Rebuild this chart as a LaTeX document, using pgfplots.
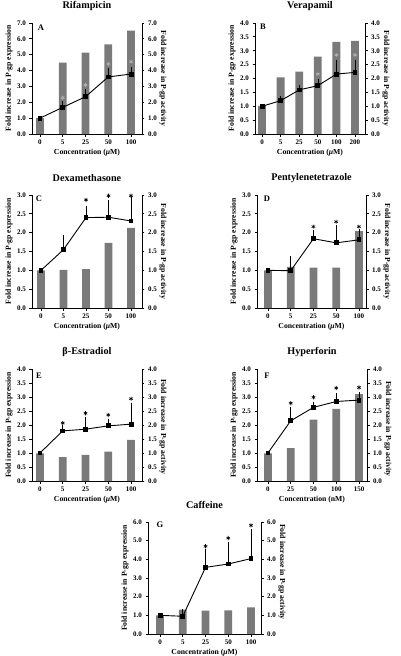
\documentclass[border=0pt]{standalone}
\usepackage{fontspec}
\setmainfont{Liberation Serif}
\usepackage{pgfplots}
\pgfplotsset{compat=1.18}

\newcommand\tickfont{\bfseries\fontsize{7}{8}\selectfont}
\newcommand\labfont{\bfseries\fontsize{7.7}{9}\selectfont}
\newcommand\titfont{\bfseries\fontsize{10.2}{12}\selectfont}
\newcommand\letfont{\bfseries\fontsize{8.5}{9}\selectfont}

\tikzset{letter/.style={font=\letfont, anchor=center, inner sep=0pt}}

\pgfplotsset{
 common/.style={scale only axis, clip=false, tick align=outside, major tick length=2.5pt,
   axis line style={line width=0.8pt, black},
   tick style={black, line width=0.8pt},
   tick label style={font=\tickfont},
   /pgf/number format/assume math mode=true,
   y tick label style={/pgf/number format/.cd, fixed, fixed zerofill, precision=1, /tikz/.cd},
   ymin=0, xtick={0,1,2,3,4}},
 leftax/.style={common, axis x line*=bottom, axis y line*=left,
   every axis y label/.style={at={(axis description cs:0,0.5)}, xshift=-23pt, rotate=90, anchor=center, font=\labfont},
   every axis x label/.style={at={(axis description cs:0.5,0)}, yshift=-19pt, anchor=center, font=\labfont},
   every axis title/.style={at={(axis description cs:0.5,1)}, yshift=17pt, anchor=center, font=\titfont},
   ylabel={Fold increase in P-gp expression}, xlabel={Concentration (\textit{μ}M)}},
 rightax/.style={common, axis x line=none, axis y line*=right,
   every axis y label/.style={at={(axis description cs:1,0.5)}, xshift=21pt, rotate=-90, anchor=center, font=\labfont},
   ylabel={Fold increase in P-gp activity}},
 bars/.style={ybar, bar width=7.8pt, fill=black!52, draw=none},
 line/.style={black, line width=0.9pt, mark=square*, mark size=1.9pt, mark options={solid},
   error bars/.cd, y dir=plus, y explicit, error bar style={line width=0.6pt, black},
   error mark options={black, mark size=2.2pt, line width=0.6pt}},
 stars/.style={only marks, mark=asterisk, mark size=2.1pt, black, mark options={line width=0.6pt}},
 pA/.style={at={(32pt,-134pt)}, anchor=south west, width=110pt, height=111pt, xmin=-0.35, xmax=4.48, ymax=7, ytick={0,1,...,7}},
 pB/.style={at={(255pt,-134pt)}, anchor=south west, width=110pt, height=111pt, xmin=-0.38, xmax=5.54, ymax=4, ytick={0,0.5,...,4}, xtick={0,1,2,3,4,5}},
 pC/.style={at={(32pt,-308pt)}, anchor=south west, width=110pt, height=113pt, xmin=-0.4, xmax=4.49, ymax=3, ytick={0,0.5,...,3}},
 pD/.style={at={(257pt,-308pt)}, anchor=south west, width=109pt, height=113pt, xmin=-0.48, xmax=4.31, ymax=3, ytick={0,0.5,...,3}},
 pE/.style={at={(32pt,-481pt)}, anchor=south west, width=110pt, height=112pt, xmin=-0.35, xmax=4.48, ymax=4, ytick={0,0.5,...,4}},
 pF/.style={at={(257pt,-481pt)}, anchor=south west, width=110pt, height=112pt, xmin=-0.48, xmax=4.35, ymax=4, ytick={0,0.5,...,4}},
 pG/.style={at={(148pt,-634pt)}, anchor=south west, width=113pt, height=112pt, xmin=-0.53, xmax=4.44, ymax=6, ytick={0,1,...,6}},
}

\begin{document}
\begin{tikzpicture}
\useasboundingbox (0pt,0pt) rectangle (400pt,-656pt);

% ---------------- A: Rifampicin
\begin{axis}[leftax, pA, title={Rifampicin}, xticklabels={0,5,25,50,100}]
\addplot[bars] coordinates {(0,1.0) (1,4.5) (2,5.13) (3,5.66) (4,6.52)};
\node[letter, xshift=9pt, yshift=-5pt] at (rel axis cs:0,1) {A};
\end{axis}
\begin{axis}[rightax, pA]
\addplot[line] coordinates {(0,1.0) +- (0,0) (1,1.68) +- (0,0.25) (2,2.35) +- (0,0.32) (3,3.6) +- (0,0.44) (4,3.78) +- (0,0.3)};
\addplot[stars, black!30] coordinates {(1,2.29) (2,3.09) (3,4.41) (4,4.56)};
\end{axis}

% ---------------- B: Verapamil
\begin{axis}[leftax, pB, title={Verapamil}, xticklabels={0,5,25,50,100,200}]
\addplot[bars] coordinates {(0,1.01) (1,2.04) (2,2.25) (3,2.79) (4,3.32) (5,3.36)};
\node[letter, xshift=8pt, yshift=-4pt] at (rel axis cs:0,1) {B};
\end{axis}
\begin{axis}[rightax, pB]
\addplot[line] coordinates {(0,1.0) +- (0,0) (1,1.2) +- (0,0.09) (2,1.59) +- (0,0.08) (3,1.74) +- (0,0.17) (4,2.16) +- (0,0.43) (5,2.22) +- (0,0.36)};
\addplot[stars, black!30] coordinates {(3,2.16) (4,2.85) (5,2.85)};
\end{axis}

% ---------------- C: Dexamethasone
\begin{axis}[leftax, pC, title={Dexamethasone}, xticklabels={0,5,25,50,100}]
\addplot[bars] coordinates {(0,1.0) (1,1.01) (2,1.03) (3,1.73) (4,2.13)};
\node[letter, xshift=7pt, yshift=-4pt] at (rel axis cs:0,1) {C};
\end{axis}
\begin{axis}[rightax, pC]
\addplot[line] coordinates {(0,1.0) +- (0,0) (1,1.55) +- (0,0.34) (2,2.4) +- (0,0.25) (3,2.41) +- (0,0.41) (4,2.31) +- (0,0.57)};
\addplot[stars] coordinates {(2,2.87) (3,2.98) (4,2.98)};
\end{axis}

% ---------------- D: Pentylenetetrazole
\begin{axis}[leftax, pD, title={Pentylenetetrazole}, xticklabels={0,5,25,50,100}]
\addplot[bars] coordinates {(0,1.0) (1,1.09) (2,1.07) (3,1.07) (4,2.04)};
\node[letter, xshift=10pt, yshift=-4pt] at (rel axis cs:0,1) {D};
\end{axis}
\begin{axis}[rightax, pD]
\addplot[line] coordinates {(0,1.0) +- (0,0) (1,0.99) +- (0,0.33) (2,1.84) +- (0,0.17) (3,1.73) +- (0,0.41) (4,1.81) +- (0,0.22)};
\addplot[stars] coordinates {(2,2.16) (3,2.29) (4,2.16)};
\end{axis}

% ---------------- E: beta-Estradiol
\begin{axis}[leftax, pE, title={β-Estradiol}, xticklabels={0,5,25,50,100}]
\addplot[bars] coordinates {(0,0.99) (1,0.85) (2,0.93) (3,1.05) (4,1.47)};
\node[letter, xshift=7pt, yshift=-7pt] at (rel axis cs:0,1) {E};
\end{axis}
\begin{axis}[rightax, pE, every axis y label/.append style={xshift=2pt}]
\addplot[line] coordinates {(0,1.0) +- (0,0) (1,1.79) +- (0,0.13) (2,1.85) +- (0,0.37) (3,1.97) +- (0,0.16) (4,2.03) +- (0,0.69)};
\addplot[stars] coordinates {(1,2.07) (2,2.42) (3,2.36) (4,2.94)};
\end{axis}

% ---------------- F: Hyperforin
\begin{axis}[leftax, pF, title={Hyperforin}, xticklabels={0,25,50,100,150}, xlabel={Concentration (nM)}]
\addplot[bars] coordinates {(0,0.99) (1,1.17) (2,2.19) (3,2.58) (4,3.1)};
\node[letter, xshift=10pt, yshift=-7pt] at (rel axis cs:0,1) {F};
\end{axis}
\begin{axis}[rightax, pF, every axis y label/.append style={xshift=4pt}]
\addplot[line] coordinates {(0,1.0) +- (0,0) (1,2.15) +- (0,0.42) (2,2.63) +- (0,0.13) (3,2.84) +- (0,0.22) (4,2.89) +- (0,0.21)};
\addplot[stars] coordinates {(1,2.78) (2,2.99) (3,3.32) (4,3.34)};
\end{axis}

% ---------------- G: Caffeine
\begin{axis}[leftax, pG, title={Caffeine}, xticklabels={0,5,25,50,100}]
\addplot[bars] coordinates {(0,1.0) (1,1.3) (2,1.25) (3,1.27) (4,1.43)};
\node[letter, xshift=12pt, yshift=-3pt] at (rel axis cs:0,1) {G};
\end{axis}
\begin{axis}[rightax, pG, every axis y label/.append style={xshift=-6pt}]
\addplot[line] coordinates {(0,1.0) +- (0,0) (1,0.95) +- (0,0.25) (2,3.57) +- (0,0.86) (3,3.75) +- (0,1.07) (4,4.04) +- (0,1.46)};
\addplot[stars] coordinates {(2,4.7) (3,5.14) (4,5.82)};
\end{axis}

\end{tikzpicture}
\end{document}
